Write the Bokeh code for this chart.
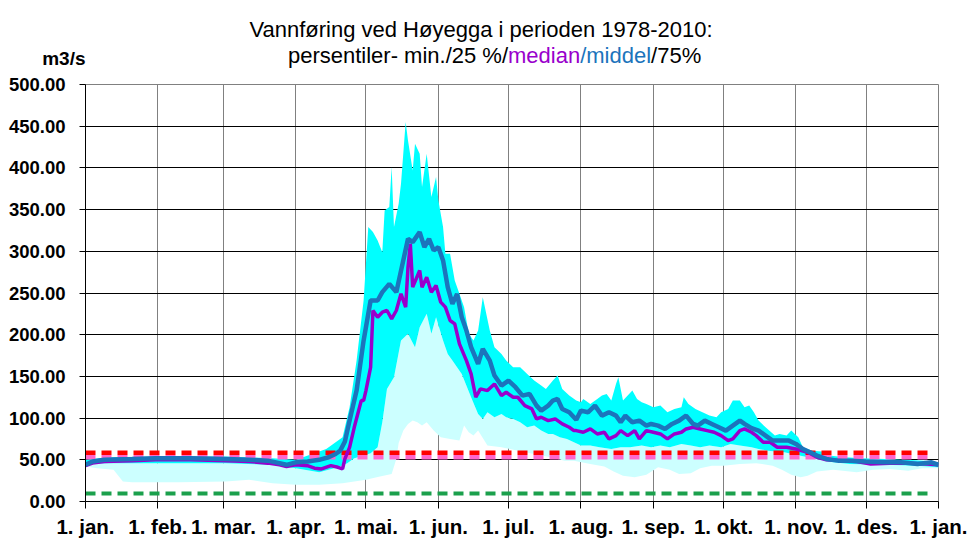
import numpy as np
from bokeh.plotting import figure
from bokeh.layouts import column
from bokeh.models import Range1d, FixedTicker, NumeralTickFormatter
from bokeh.core.properties import value
from bokeh.embed import file_html
from bokeh.resources import INLINE

# ---------------- data (day of year, m3/s) ----------------
month_ticks = [0, 31, 59, 90, 120, 151, 181, 212, 243, 273, 304, 334, 365]
month_labels = ["1. jan.", "1. feb.", "1. mar.", "1. apr.", "1. mai.", "1. jun.", "1. jul.",
                "1. aug.", "1. sep.", "1. okt.", "1. nov.", "1. des.", "1. jan."]
y_ticks = [0, 50, 100, 150, 200, 250, 300, 350, 400, 450, 500]

mean_days = [0, 3, 8, 20, 30, 45, 60, 70, 78, 83, 86, 90, 95, 100, 104, 107, 109, 111, 113, 116,
             119, 122, 125, 127, 130, 133, 138, 140, 143, 145, 147, 149, 151, 153, 155, 157, 159,
             161, 163, 165, 168, 170, 173, 175, 178, 181, 184, 187, 190, 193, 195, 198, 200, 202,
             204, 207, 210, 212, 215, 218, 221, 224, 227, 229, 231, 234, 237, 240, 242, 245, 248,
             251, 254, 257, 260, 262, 265, 268, 271, 274, 277, 280, 282, 285, 288, 291, 294, 297,
             301, 304, 307, 310, 313, 317, 322, 327, 334, 342, 349, 356, 362, 365]
mean_vals = [44, 48, 50, 51, 52, 52, 51, 50, 49, 46, 44, 47, 48, 50, 53, 57, 61, 72, 97, 133,
             193, 241, 241, 251, 261, 251, 315, 311, 323, 305, 315, 301, 305, 289, 257, 237, 249,
             221, 205, 185, 165, 183, 169, 151, 139, 145, 137, 127, 129, 115, 109, 115, 121, 123,
             111, 107, 98, 109, 107, 115, 103, 107, 103, 95, 103, 95, 97, 91, 93, 91, 87,
             93, 97, 103, 93, 91, 97, 93, 89, 85, 91, 97, 93, 88, 85, 79, 73, 73,
             73, 69, 63, 59, 55, 51, 49, 49, 48, 47, 47, 45, 47, 44]

median_days = [0, 3, 8, 20, 30, 45, 60, 70, 78, 83, 86, 90, 95, 98, 101, 105, 108, 110, 111, 113,
               115, 118, 119, 120, 122, 123, 125, 127, 129, 131, 133, 135, 137, 138, 139, 140, 143,
               144, 146, 148, 150, 152, 154, 156, 158, 160, 163, 165, 167, 169, 172, 175, 178, 180,
               183, 185, 188, 191, 193, 195, 198, 201, 204, 207, 209, 210, 213, 216, 219, 222, 224,
               227, 229, 232, 235, 237, 240, 243, 246, 249, 252, 255, 257, 260, 263, 266, 269, 272,
               275, 277, 280, 282, 285, 287, 290, 293, 296, 300, 304, 309, 313, 317, 324, 330, 336,
               344, 353, 360, 365]
median_vals = [43, 46, 48, 49, 50, 50, 49, 48, 46, 44, 42, 44, 43, 40, 39, 43, 41, 39, 51, 65,
               89, 121, 121, 133, 161, 229, 221, 227, 229, 219, 229, 249, 233, 281, 309, 257, 277,
               257, 269, 251, 259, 239, 233, 217, 213, 189, 169, 153, 125, 135, 133, 141, 127, 131,
               125, 125, 115, 111, 99, 101, 97, 99, 93, 89, 85, 85, 83, 87, 81, 83, 75,
               79, 85, 79, 85, 75, 85, 83, 81, 75, 81, 83, 87, 89, 87, 85, 83, 79,
               73, 75, 85, 87, 83, 79, 71, 71, 65, 65, 63, 59, 53, 50, 49, 48, 45,
               46, 46, 45, 44]

p75_days = [0, 10, 30, 60, 80, 90, 100, 103, 106, 110, 113, 116, 119, 121, 123, 125, 127, 128,
            130, 131, 132, 134, 135, 137, 138, 140, 141, 143, 144, 146, 148, 150, 151, 153, 154,
            156, 158, 160, 162, 164, 166, 168, 170, 173, 175, 178, 180, 183, 186, 189, 192, 195,
            197, 200, 202, 204, 207, 210, 212, 213, 216, 219, 221, 223, 225, 227, 228, 230, 232,
            234, 236, 238, 240, 243, 246, 249, 252, 255, 256, 258, 261, 264, 267, 270, 272, 275,
            277, 280, 282, 284, 286, 288, 291, 295, 297, 300, 302, 305, 307, 311, 315, 319, 325,
            332, 342, 350, 359, 365]
p75_vals = [50, 53, 54, 54, 52, 50, 60, 63, 69, 77, 113, 169, 241, 329, 323, 313, 299, 349,
            353, 401, 329, 357, 381, 455, 433, 397, 429, 417, 377, 417, 365, 389, 361, 329, 297,
            297, 265, 249, 233, 201, 193, 205, 245, 205, 185, 177, 169, 161, 161, 153, 145, 139,
            135, 145, 151, 135, 127, 121, 119, 123, 117, 123, 127, 129, 121, 141, 149, 121, 127,
            133, 123, 119, 117, 113, 115, 107, 111, 113, 125, 117, 111, 107, 103, 101, 107, 111,
            121, 121, 113, 115, 107, 97, 89, 79, 81, 79, 85, 77, 65, 61, 60, 55, 53,
            52, 51, 50, 49, 47]

p25_days = [0, 10, 30, 60, 80, 90, 100, 108, 112, 115, 119, 122, 125, 127, 129, 132, 135, 138,
            141, 143, 146, 148, 150, 153, 155, 157, 161, 165, 168, 170, 172, 175, 178, 180, 183,
            186, 189, 192, 195, 198, 200, 203, 206, 209, 212, 216, 220, 225, 229, 233, 238, 242,
            246, 250, 255, 259, 263, 267, 272, 276, 280, 285, 288, 292, 299, 306, 313, 320, 327,
            342, 356, 365]
p25_vals = [45, 46, 46, 46, 44, 40, 35, 41, 46, 52, 55, 58, 65, 95, 135, 149, 193, 201,
            185, 209, 225, 201, 221, 193, 177, 169, 153, 125, 105, 99, 107, 101, 105, 101, 99,
            95, 89, 91, 85, 81, 81, 77, 75, 71, 67, 67, 65, 63, 65, 65, 67, 65,
            67, 65, 69, 67, 65, 67, 65, 69, 67, 65, 63, 61, 59, 55, 51, 47, 45,
            44, 43, 41]

min_days = [0, 5, 12, 16, 20, 40, 60, 70, 80, 90, 100, 110, 120, 126, 131, 133, 134, 136, 138,
            140, 142, 144, 146, 149, 152, 156, 160, 162, 164, 166, 168, 172, 178, 185, 192, 199,
            205, 209, 216, 222, 226, 230, 235, 240, 245, 250, 254, 259, 263, 268, 273, 280, 287,
            294, 298, 302, 306, 309, 313, 320, 330, 337, 344, 352, 358, 365]
min_vals = [42, 40, 38, 24, 23, 23, 24, 26, 22, 20, 20, 22, 26, 30, 33, 51, 70, 85, 93,
            97, 95, 91, 95, 85, 77, 75, 73, 91, 83, 79, 85, 67, 65, 61, 57, 53,
            49, 49, 45, 42, 36, 31, 29, 32, 41, 38, 33, 34, 40, 43, 43, 45, 46,
            43, 38, 32, 29, 31, 36, 38, 35, 38, 39, 37, 40, 40]

limit_days = [0, 362]
red_limit = [58.5, 58.5]
pink_limit = [53, 53]
green_limit = [9.6, 9.6]

title_line1 = "Vannføring ved Høyegga i perioden 1978-2010:"
title_line2_parts = ["persentiler- min./25 %/", "median", "/middel", "/75%"]
title_line2_colors = ["black", "#9900CC", "#1C74BC", "black"]
unit_label = "m3/s"

FONT = "Liberation Sans"
W, H = 972, 546
TOP = 72
DY = -8.5   # measured vertical offset correction of the header frame

# ---------------- header (title + unit), pixel coordinates ----------------
head = figure(width=W, height=TOP, output_backend="svg", toolbar_location=None, title=None,
              x_range=Range1d(0, W), y_range=Range1d(TOP, 0),
              x_axis_type=None, y_axis_type=None,
              min_border_left=0, min_border_right=0, min_border_top=0, min_border_bottom=0,
              background_fill_color="white", border_fill_color="white")
head.outline_line_color = None
head.frame_align = False

TS = 22
head.text(x=[480.5], y=[37.3 + DY], text=[title_line1], text_font=value(FONT),
          text_font_size=value(f"{TS}px"), text_color="black",
          text_align="center", text_baseline="alphabetic")
# Arial/Liberation advance widths (1/1000 em) of the coloured segments
seg_em = [10003, 3279, 3223, 2001]
total = sum(seg_em) * TS / 1000.0
xpos = 491.0 - total / 2
for txt, col, em in zip(title_line2_parts, title_line2_colors, seg_em):
    head.text(x=[xpos], y=[63.3 + DY], text=[txt], text_font=value(FONT),
              text_font_size=value(f"{TS}px"), text_color=col,
              text_align="left", text_baseline="alphabetic")
    xpos += em * TS / 1000.0
head.text(x=[85], y=[66 + DY], text=[unit_label], text_font=value(FONT),
          text_font_size=value("19px"), text_font_style="bold", text_color="black",
          text_align="right", text_baseline="alphabetic")

# ---------------- main chart ----------------
p = figure(width=W, height=H - TOP, output_backend="svg", toolbar_location=None,
           x_range=Range1d(0, 365), y_range=Range1d(0, 500),
           min_border_left=85, min_border_right=34, min_border_top=84 - TOP, min_border_bottom=45,
           background_fill_color="white", border_fill_color="white")
p.frame_align = False
p.outline_line_color = "#808080"
p.outline_line_width = 1

p.xgrid.grid_line_color = "#808080"
p.xgrid.grid_line_width = 1
p.ygrid.grid_line_color = "#000000"
p.ygrid.grid_line_width = 1

p.xaxis.ticker = FixedTicker(ticks=month_ticks)
p.xaxis.major_label_overrides = {t: l for t, l in zip(month_ticks, month_labels)}
p.yaxis.ticker = FixedTicker(ticks=y_ticks)
p.yaxis.formatter = NumeralTickFormatter(format="0.00")
for ax in (p.xaxis, p.yaxis):
    ax.axis_line_color = "black"
    ax.axis_line_width = 1
    ax.major_tick_line_color = "black"
    ax.minor_tick_line_color = None
    ax.major_tick_in = 0
    ax.major_label_text_font = FONT
    ax.major_label_text_font_style = "bold"
    ax.major_label_text_color = "black"
p.xaxis.major_tick_out = 7
p.xaxis.major_label_standoff = 6
p.xaxis.major_label_text_font_size = "20.5px"
p.yaxis.major_tick_out = 6
p.yaxis.major_label_standoff = 14
p.yaxis.major_label_text_font_size = "18.5px"

# bands
light_x = np.concatenate([np.array(min_days, float), np.array(p25_days, float)[::-1]])
light_y = np.concatenate([np.array(min_vals, float), np.array(p25_vals, float)[::-1]])
p.patch(light_x, light_y, fill_color="#CCFFFF", line_alpha=0)

cyan_x = np.concatenate([np.array(p25_days, float), np.array(p75_days, float)[::-1]])
cyan_y = np.concatenate([np.array(p25_vals, float), np.array(p75_vals, float)[::-1]])
p.patch(cyan_x, cyan_y, fill_color="#00FFFF", line_alpha=0)

# limit lines
p.line(limit_days, green_limit, line_color="#1BA04C", line_width=4, line_dash="10 6")
p.line(limit_days, pink_limit, line_color="#FF66CC", line_width=4.5, line_dash="10 6")
p.line(limit_days, red_limit, line_color="#FF0000", line_width=4.5, line_dash="10 6")

# median & mean
p.line(median_days, median_vals, line_color="#9900CC", line_width=3.5)
p.line(mean_days, mean_vals, line_color="#1C74BC", line_width=4.5)

layout = column(head, p, spacing=0)
open("out.html", "w").write(file_html(layout, INLINE))
